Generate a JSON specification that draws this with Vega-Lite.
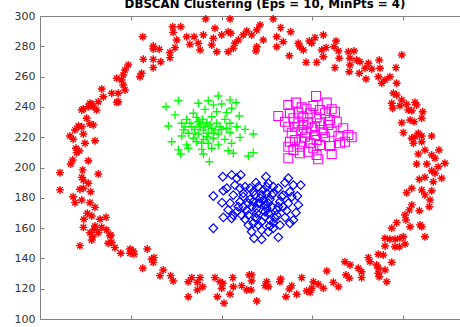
{
  "$schema": "https://vega.github.io/schema/vega-lite/v6.json",
  "autosize": {"type": "none"},
  "padding": {"left": 40, "top": 16, "right": 0, "bottom": 8},
  "width": 420,
  "height": 303,
  "background": "white",
  "config": {"view": {"stroke": null}},
  "title": {"text": "DBSCAN Clustering (Eps = 10, MinPts = 4)", "font": "DejaVu Sans", "fontSize": 11.8, "fontWeight": "bold", "color": "#000000", "anchor": "middle", "frame": "group", "dx": 15, "dy": 9.5, "offset": 0, "baseline": "alphabetic"},
  "layer": [
    {
      "data": {"values": [
        {"x":91.3,"y":298.0,"c":1},{"x":104.7,"y":298.0,"c":1},{"x":73.1,"y":292.9,"c":1},{"x":77.5,"y":292.9,"c":1},{"x":73.4,"y":289.2,"c":1},{"x":96.4,"y":291.9,"c":1},{"x":103.7,"y":289.6,"c":1},{"x":105.1,"y":288.6,"c":1},{"x":113.9,"y":290.1,"c":1},{"x":112.0,"y":287.5,"c":1},
        {"x":56.6,"y":286.3,"c":1},{"x":75.3,"y":284.2,"c":1},{"x":80.8,"y":286.3,"c":1},{"x":84.9,"y":286.3,"c":1},{"x":90.0,"y":287.5,"c":1},{"x":95.5,"y":285.3,"c":1},{"x":100.1,"y":287.5,"c":1},{"x":109.3,"y":284.2,"c":1},{"x":107.4,"y":282.0,"c":1},{"x":82.6,"y":281.3,"c":1},
        {"x":87.2,"y":282.0,"c":1},{"x":94.6,"y":280.9,"c":1},{"x":74.4,"y":279.1,"c":1},{"x":62.4,"y":280.2,"c":1},{"x":62.4,"y":278.2,"c":1},{"x":65.7,"y":278.0,"c":1},{"x":106.5,"y":278.7,"c":1},{"x":88.2,"y":277.6,"c":1},{"x":97.4,"y":276.4,"c":1},{"x":103.7,"y":276.4,"c":1},
        {"x":71.6,"y":276.0,"c":1},{"x":71.6,"y":272.5,"c":1},{"x":56.9,"y":271.4,"c":1},{"x":62.4,"y":271.4,"c":1},{"x":66.5,"y":269.8,"c":1},{"x":48.6,"y":267.7,"c":1},{"x":62.4,"y":265.9,"c":1},{"x":46.8,"y":264.4,"c":1},{"x":45.9,"y":261.1,"c":1},{"x":56.0,"y":262.2,"c":1},
        {"x":55.1,"y":259.9,"c":1},{"x":42.3,"y":258.9,"c":1},{"x":45.0,"y":257.8,"c":1},{"x":45.9,"y":254.5,"c":1},{"x":34.0,"y":251.8,"c":1},{"x":39.5,"y":249.0,"c":1},{"x":46.8,"y":251.2,"c":1},{"x":34.9,"y":246.7,"c":1},{"x":43.1,"y":249.0,"c":1},{"x":42.3,"y":243.0,"c":1},
        {"x":27.5,"y":242.4,"c":1},{"x":29.4,"y":240.1,"c":1},{"x":23.9,"y":238.6,"c":1},{"x":128.5,"y":298.0,"c":1},{"x":121.2,"y":294.1,"c":1},{"x":119.4,"y":290.8,"c":1},{"x":116.6,"y":287.5,"c":1},{"x":132.6,"y":292.3,"c":1},{"x":138.1,"y":289.6,"c":1},{"x":130.4,"y":286.3,"c":1},
        {"x":134.0,"y":283.0,"c":1},{"x":130.4,"y":279.7,"c":1},{"x":123.0,"y":284.2,"c":1},{"x":119.4,"y":279.7,"c":1},{"x":119.0,"y":276.9,"c":1},{"x":142.3,"y":282.0,"c":1},{"x":143.2,"y":279.7,"c":1},{"x":148.4,"y":283.5,"c":1},{"x":151.5,"y":285.7,"c":1},{"x":156.1,"y":287.5,"c":1},
        {"x":149.7,"y":282.0,"c":1},{"x":145.1,"y":277.6,"c":1},{"x":137.4,"y":273.8,"c":1},{"x":146.6,"y":269.4,"c":1},{"x":152.4,"y":269.4,"c":1},{"x":155.2,"y":277.6,"c":1},{"x":157.6,"y":279.1,"c":1},{"x":156.1,"y":273.1,"c":1},{"x":163.1,"y":283.5,"c":1},{"x":162.0,"y":279.7,"c":1},
        {"x":164.4,"y":276.9,"c":1},{"x":164.9,"y":272.1,"c":1},{"x":162.5,"y":265.9,"c":1},{"x":169.9,"y":276.4,"c":1},{"x":173.0,"y":276.9,"c":1},{"x":170.8,"y":272.1,"c":1},{"x":174.5,"y":271.0,"c":1},{"x":170.8,"y":267.7,"c":1},{"x":170.4,"y":263.2,"c":1},{"x":176.3,"y":269.8,"c":1},
        {"x":179.1,"y":265.5,"c":1},{"x":175.9,"y":262.2,"c":1},{"x":180.9,"y":268.8,"c":1},{"x":182.8,"y":265.0,"c":1},{"x":179.6,"y":258.4,"c":1},{"x":186.9,"y":271.0,"c":1},{"x":187.3,"y":265.5,"c":1},{"x":186.4,"y":259.9,"c":1},{"x":188.3,"y":255.6,"c":1},{"x":192.8,"y":259.9,"c":1},
        {"x":190.1,"y":257.8,"c":1},{"x":199.3,"y":274.3,"c":1},{"x":196.1,"y":265.9,"c":1},{"x":196.5,"y":255.6,"c":1},{"x":194.7,"y":249.0,"c":1},{"x":196.5,"y":247.9,"c":1},{"x":199.3,"y":244.6,"c":1},{"x":202.0,"y":241.7,"c":1},{"x":193.8,"y":242.4,"c":1},{"x":198.3,"y":240.8,"c":1},
        {"x":206.6,"y":243.0,"c":1},{"x":207.5,"y":241.3,"c":1},{"x":194.3,"y":239.1,"c":1},{"x":202.9,"y":238.0,"c":1},{"x":204.8,"y":237.5,"c":1},{"x":210.8,"y":236.8,"c":1},{"x":210.3,"y":232.5,"c":1},{"x":203.9,"y":231.4,"c":1},{"x":206.1,"y":230.2,"c":1},{"x":199.3,"y":229.6,"c":1},
        {"x":200.2,"y":223.0,"c":1},{"x":208.4,"y":222.6,"c":1},{"x":206.6,"y":220.3,"c":1},{"x":210.3,"y":220.8,"c":1},{"x":204.8,"y":219.3,"c":1},{"x":215.8,"y":220.8,"c":1},{"x":210.3,"y":217.0,"c":1},{"x":205.7,"y":216.0,"c":1},{"x":212.1,"y":211.6,"c":1},{"x":208.4,"y":208.9,"c":1},
        {"x":215.8,"y":208.3,"c":1},{"x":219.8,"y":211.6,"c":1},{"x":217.6,"y":206.1,"c":1},{"x":213.1,"y":202.3,"c":1},{"x":207.5,"y":202.3,"c":1},{"x":223.1,"y":202.8,"c":1},{"x":219.4,"y":200.5,"c":1},{"x":215.8,"y":197.9,"c":1},{"x":217.6,"y":196.2,"c":1},{"x":221.3,"y":192.9,"c":1},
        {"x":212.1,"y":193.5,"c":1},{"x":209.0,"y":192.2,"c":1},{"x":216.7,"y":190.6,"c":1},{"x":204.8,"y":186.3,"c":1},{"x":202.0,"y":183.4,"c":1},{"x":210.3,"y":185.2,"c":1},{"x":212.1,"y":181.9,"c":1},{"x":215.8,"y":184.7,"c":1},{"x":214.9,"y":178.5,"c":1},{"x":214.5,"y":174.1,"c":1},
        {"x":204.8,"y":175.3,"c":1},{"x":203.5,"y":172.0,"c":1},{"x":209.0,"y":171.5,"c":1},{"x":201.1,"y":168.6,"c":1},{"x":201.6,"y":165.3,"c":1},{"x":196.5,"y":163.6,"c":1},{"x":203.9,"y":160.9,"c":1},{"x":209.4,"y":162.0,"c":1},{"x":210.3,"y":160.9,"c":1},{"x":193.8,"y":159.9,"c":1},
        {"x":212.1,"y":154.3,"c":1},{"x":200.2,"y":154.3,"c":1},{"x":190.1,"y":153.3,"c":1},{"x":192.8,"y":152.6,"c":1},{"x":195.6,"y":152.6,"c":1},{"x":198.3,"y":153.3,"c":1},{"x":190.1,"y":148.2,"c":1},{"x":195.6,"y":147.7,"c":1},{"x":198.0,"y":147.7,"c":1},{"x":201.1,"y":149.5,"c":1},
        {"x":186.4,"y":142.7,"c":1},{"x":189.1,"y":142.2,"c":1},{"x":180.9,"y":140.5,"c":1},{"x":181.8,"y":137.8,"c":1},{"x":193.8,"y":137.4,"c":1},{"x":185.5,"y":135.6,"c":1},{"x":186.4,"y":133.5,"c":1},{"x":190.1,"y":132.3,"c":1},{"x":186.4,"y":130.2,"c":1},{"x":186.9,"y":127.9,"c":1},
        {"x":191.0,"y":124.6,"c":1},{"x":168.0,"y":137.8,"c":1},{"x":170.8,"y":135.6,"c":1},{"x":175.4,"y":133.5,"c":1},{"x":177.2,"y":131.2,"c":1},{"x":177.2,"y":127.3,"c":1},{"x":168.6,"y":129.0,"c":1},{"x":170.4,"y":126.9,"c":1},{"x":158.0,"y":131.7,"c":1},{"x":161.6,"y":124.2,"c":1},
        {"x":164.4,"y":121.3,"c":1},{"x":153.3,"y":122.9,"c":1},{"x":156.1,"y":120.3,"c":1},{"x":150.6,"y":124.6,"c":1},{"x":149.7,"y":120.3,"c":1},{"x":146.9,"y":118.5,"c":1},{"x":148.8,"y":117.6,"c":1},{"x":144.2,"y":127.3,"c":1},{"x":138.7,"y":122.0,"c":1},{"x":137.4,"y":119.8,"c":1},
        {"x":141.4,"y":116.3,"c":1},{"x":135.5,"y":114.7,"c":1},{"x":132.6,"y":126.4,"c":1},{"x":132.2,"y":124.6,"c":1},{"x":124.9,"y":124.6,"c":1},{"x":125.8,"y":121.3,"c":1},{"x":124.0,"y":122.0,"c":1},{"x":116.6,"y":129.0,"c":1},{"x":116.6,"y":125.1,"c":1},{"x":116.3,"y":119.1,"c":1},
        {"x":119.4,"y":111.9,"c":1},{"x":22.0,"y":148.4,"c":1},{"x":28.5,"y":152.1,"c":1},{"x":29.0,"y":154.3,"c":1},{"x":37.6,"y":150.0,"c":1},{"x":39.5,"y":150.6,"c":1},{"x":41.3,"y":147.1,"c":1},{"x":38.6,"y":155.0,"c":1},{"x":44.5,"y":143.4,"c":1},{"x":49.6,"y":146.2,"c":1},
        {"x":51.4,"y":144.9,"c":1},{"x":49.6,"y":143.4,"c":1},{"x":51.8,"y":142.7,"c":1},{"x":59.1,"y":146.2,"c":1},{"x":61.5,"y":139.6,"c":1},{"x":62.8,"y":140.5,"c":1},{"x":62.4,"y":137.4,"c":1},{"x":56.6,"y":133.5,"c":1},{"x":67.9,"y":132.3,"c":1},{"x":66.1,"y":128.6,"c":1},
        {"x":72.0,"y":128.6,"c":1},{"x":73.4,"y":125.1,"c":1},{"x":81.7,"y":124.6,"c":1},{"x":83.6,"y":127.3,"c":1},{"x":88.2,"y":127.3,"c":1},{"x":86.7,"y":124.2,"c":1},{"x":89.6,"y":121.3,"c":1},{"x":86.7,"y":119.1,"c":1},{"x":81.7,"y":114.7,"c":1},{"x":96.4,"y":127.3,"c":1},
        {"x":99.2,"y":124.6,"c":1},{"x":100.7,"y":123.6,"c":1},{"x":100.1,"y":120.3,"c":1},{"x":106.2,"y":127.3,"c":1},{"x":106.5,"y":121.3,"c":1},{"x":104.7,"y":116.3,"c":1},{"x":97.7,"y":114.7,"c":1},{"x":101.4,"y":110.4,"c":1},{"x":111.1,"y":122.0,"c":1},{"x":113.9,"y":119.1,"c":1},
        {"x":115.3,"y":129.0,"c":1},{"x":23.0,"y":238.0,"c":1},{"x":26.6,"y":240.1,"c":1},{"x":28.5,"y":241.9,"c":1},{"x":31.2,"y":238.0,"c":1},{"x":32.1,"y":243.4,"c":1},{"x":43.1,"y":243.4,"c":1},{"x":25.7,"y":232.5,"c":1},{"x":27.5,"y":228.7,"c":1},{"x":29.4,"y":228.1,"c":1},
        {"x":21.1,"y":227.4,"c":1},{"x":23.0,"y":226.9,"c":1},{"x":19.3,"y":224.8,"c":1},{"x":16.5,"y":220.8,"c":1},{"x":18.3,"y":218.6,"c":1},{"x":23.9,"y":222.1,"c":1},{"x":24.8,"y":216.0,"c":1},{"x":30.3,"y":217.7,"c":1},{"x":19.8,"y":212.7,"c":1},{"x":21.7,"y":211.1,"c":1},
        {"x":20.2,"y":209.8,"c":1},{"x":26.6,"y":204.5,"c":1},{"x":18.0,"y":205.0,"c":1},{"x":16.9,"y":202.3,"c":1},{"x":11.0,"y":196.6,"c":1},{"x":23.5,"y":198.4,"c":1},{"x":23.0,"y":193.5,"c":1},{"x":32.1,"y":195.7,"c":1},{"x":23.9,"y":191.8,"c":1},{"x":26.6,"y":189.6,"c":1},
        {"x":11.0,"y":185.2,"c":1},{"x":22.0,"y":185.6,"c":1},{"x":23.9,"y":186.3,"c":1},{"x":27.9,"y":184.0,"c":1},{"x":18.3,"y":180.7,"c":1},{"x":19.3,"y":176.8,"c":1},{"x":23.0,"y":178.5,"c":1},{"x":27.5,"y":176.8,"c":1},{"x":30.3,"y":173.7,"c":1},{"x":26.1,"y":169.8,"c":1},
        {"x":28.5,"y":168.0,"c":1},{"x":33.1,"y":165.8,"c":1},{"x":36.4,"y":167.1,"c":1},{"x":24.2,"y":165.8,"c":1},{"x":23.9,"y":160.5,"c":1},{"x":30.3,"y":161.4,"c":1},{"x":29.8,"y":159.2,"c":1},{"x":34.0,"y":160.5,"c":1},{"x":36.7,"y":158.7,"c":1},{"x":39.0,"y":155.4,"c":1},
        {"x":27.5,"y":157.0,"c":1},{"x":32.1,"y":157.0,"c":1},

        {"x":98.2,"y":247.2,"c":2},{"x":104.7,"y":244.6,"c":2},{"x":108.0,"y":242.8,"c":2},{"x":76.2,"y":244.1,"c":2},{"x":69.4,"y":240.1,"c":2},{"x":87.2,"y":242.4,"c":2},{"x":92.7,"y":244.1,"c":2},{"x":95.5,"y":241.3,"c":2},{"x":100.1,"y":241.9,"c":2},{"x":74.4,"y":234.7,"c":2},
        {"x":84.5,"y":235.8,"c":2},{"x":90.9,"y":238.4,"c":2},{"x":97.4,"y":236.8,"c":2},{"x":102.9,"y":236.2,"c":2},{"x":105.6,"y":239.1,"c":2},{"x":109.8,"y":234.0,"c":2},{"x":80.8,"y":231.8,"c":2},{"x":86.3,"y":233.1,"c":2},{"x":89.6,"y":231.8,"c":2},{"x":94.6,"y":233.5,"c":2},
        {"x":101.9,"y":231.8,"c":2},{"x":70.7,"y":227.4,"c":2},{"x":78.1,"y":229.2,"c":2},{"x":82.6,"y":229.2,"c":2},{"x":88.2,"y":228.7,"c":2},{"x":91.8,"y":229.6,"c":2},{"x":97.4,"y":229.2,"c":2},{"x":104.7,"y":229.2,"c":2},{"x":108.4,"y":226.9,"c":2},{"x":79.0,"y":224.8,"c":2},
        {"x":85.4,"y":225.2,"c":2},{"x":90.0,"y":224.8,"c":2},{"x":94.6,"y":225.9,"c":2},{"x":100.1,"y":225.2,"c":2},{"x":113.0,"y":225.2,"c":2},{"x":81.7,"y":222.6,"c":2},{"x":87.2,"y":222.1,"c":2},{"x":92.7,"y":222.6,"c":2},{"x":98.2,"y":222.1,"c":2},{"x":104.7,"y":223.0,"c":2},
        {"x":117.5,"y":222.1,"c":2},{"x":78.1,"y":220.8,"c":2},{"x":84.5,"y":219.3,"c":2},{"x":90.0,"y":218.6,"c":2},{"x":95.5,"y":219.3,"c":2},{"x":101.9,"y":218.6,"c":2},{"x":110.2,"y":219.9,"c":2},{"x":72.6,"y":217.0,"c":2},{"x":80.8,"y":214.9,"c":2},{"x":86.3,"y":217.0,"c":2},
        {"x":92.7,"y":216.0,"c":2},{"x":98.2,"y":214.9,"c":2},{"x":105.6,"y":216.0,"c":2},{"x":76.2,"y":211.6,"c":2},{"x":81.7,"y":212.7,"c":2},{"x":89.1,"y":212.0,"c":2},{"x":94.6,"y":212.7,"c":2},{"x":103.7,"y":211.1,"c":2},{"x":106.5,"y":209.4,"c":2},{"x":77.5,"y":208.9,"c":2},
        {"x":90.0,"y":208.9,"c":2},{"x":114.8,"y":207.6,"c":2},{"x":117.5,"y":209.8,"c":2},{"x":93.3,"y":203.8,"c":2},{"x":90.9,"y":226.9,"c":2},{"x":93.7,"y":228.1,"c":2},{"x":88.2,"y":226.9,"c":2},{"x":96.4,"y":224.8,"c":2},{"x":91.8,"y":220.3,"c":2},{"x":83.6,"y":226.9,"c":2},
        {"x":87.2,"y":230.2,"c":2},{"x":99.2,"y":226.9,"c":2},{"x":85.4,"y":222.6,"c":2},{"x":95.5,"y":222.6,"c":2},{"x":89.1,"y":216.0,"c":2},{"x":102.9,"y":225.9,"c":2},{"x":79.9,"y":226.9,"c":2},

        {"x":100.7,"y":193.9,"c":3},{"x":105.6,"y":195.1,"c":3},{"x":110.6,"y":195.1,"c":3},{"x":108.4,"y":192.9,"c":3},{"x":124.5,"y":193.9,"c":3},{"x":136.8,"y":192.9,"c":3},{"x":139.6,"y":188.4,"c":3},{"x":143.6,"y":188.4,"c":3},{"x":135.0,"y":190.0,"c":3},{"x":95.5,"y":181.2,"c":3},
        {"x":101.0,"y":184.7,"c":3},{"x":107.4,"y":188.4,"c":3},{"x":113.0,"y":187.3,"c":3},{"x":119.0,"y":190.0,"c":3},{"x":125.8,"y":189.6,"c":3},{"x":131.3,"y":186.3,"c":3},{"x":137.7,"y":184.0,"c":3},{"x":141.8,"y":181.2,"c":3},{"x":100.3,"y":176.8,"c":3},{"x":106.5,"y":181.8,"c":3},
        {"x":112.0,"y":183.0,"c":3},{"x":117.5,"y":184.0,"c":3},{"x":123.0,"y":185.2,"c":3},{"x":128.5,"y":183.0,"c":3},{"x":134.0,"y":181.8,"c":3},{"x":104.7,"y":176.4,"c":3},{"x":110.2,"y":177.4,"c":3},{"x":115.7,"y":179.0,"c":3},{"x":121.2,"y":179.7,"c":3},{"x":126.7,"y":179.0,"c":3},
        {"x":132.2,"y":177.4,"c":3},{"x":136.8,"y":176.4,"c":3},{"x":142.3,"y":175.3,"c":3},{"x":108.4,"y":170.8,"c":3},{"x":113.9,"y":171.9,"c":3},{"x":119.4,"y":173.1,"c":3},{"x":124.9,"y":173.1,"c":3},{"x":130.4,"y":172.0,"c":3},{"x":135.9,"y":171.5,"c":3},{"x":141.0,"y":170.2,"c":3},
        {"x":101.0,"y":167.1,"c":3},{"x":105.6,"y":166.5,"c":3},{"x":113.0,"y":165.8,"c":3},{"x":118.5,"y":167.1,"c":3},{"x":124.0,"y":167.5,"c":3},{"x":129.5,"y":166.5,"c":3},{"x":135.0,"y":167.1,"c":3},{"x":139.6,"y":165.3,"c":3},{"x":95.5,"y":159.9,"c":3},{"x":114.8,"y":162.0,"c":3},
        {"x":120.3,"y":162.0,"c":3},{"x":126.7,"y":161.4,"c":3},{"x":132.2,"y":162.0,"c":3},{"x":137.7,"y":163.2,"c":3},{"x":116.6,"y":157.6,"c":3},{"x":122.1,"y":158.7,"c":3},{"x":128.5,"y":159.9,"c":3},{"x":117.9,"y":153.3,"c":3},{"x":122.1,"y":152.6,"c":3},{"x":131.3,"y":153.9,"c":3},
        {"x":125.8,"y":157.6,"c":3},{"x":121.2,"y":176.4,"c":3},{"x":124.0,"y":175.3,"c":3},{"x":119.4,"y":169.8,"c":3},{"x":125.8,"y":169.8,"c":3},{"x":116.6,"y":174.1,"c":3},{"x":123.0,"y":178.5,"c":3},{"x":127.7,"y":174.1,"c":3},{"x":114.8,"y":168.6,"c":3},{"x":122.1,"y":164.2,"c":3},
        {"x":128.5,"y":163.6,"c":3},{"x":112.0,"y":174.1,"c":3},{"x":118.5,"y":181.9,"c":3},{"x":124.9,"y":183.0,"c":3},{"x":124.9,"y":187.3,"c":3},{"x":120.3,"y":187.3,"c":3},{"x":109.3,"y":174.1,"c":3},{"x":130.4,"y":168.6,"c":3},{"x":134.0,"y":174.1,"c":3},{"x":117.5,"y":163.2,"c":3},
        {"x":102.9,"y":186.3,"c":3},{"x":110.2,"y":186.3,"c":3},{"x":115.7,"y":186.3,"c":3},{"x":128.5,"y":187.3,"c":3},{"x":133.2,"y":180.7,"c":3},{"x":138.7,"y":180.7,"c":3},{"x":103.7,"y":172.0,"c":3},{"x":106.5,"y":168.6,"c":3},{"x":111.1,"y":168.6,"c":3},{"x":120.3,"y":176.4,"c":3},
        {"x":125.8,"y":176.4,"c":3},{"x":117.5,"y":177.4,"c":3},{"x":124.0,"y":170.8,"c":3},{"x":119.4,"y":166.5,"c":3},{"x":126.7,"y":165.3,"c":3},{"x":131.3,"y":174.1,"c":3},{"x":112.0,"y":180.7,"c":3},{"x":114.8,"y":176.4,"c":3},{"x":122.1,"y":181.9,"c":3},{"x":127.7,"y":181.9,"c":3},

        {"x":152.1,"y":247.2,"c":4},{"x":141.0,"y":242.8,"c":4},{"x":158.0,"y":242.8,"c":4},{"x":136.8,"y":241.3,"c":4},{"x":131.3,"y":234.0,"c":4},{"x":144.2,"y":239.7,"c":4},{"x":150.6,"y":240.6,"c":4},{"x":146.9,"y":238.4,"c":4},{"x":154.3,"y":238.0,"c":4},{"x":160.7,"y":238.4,"c":4},
        {"x":137.7,"y":235.8,"c":4},{"x":142.3,"y":236.2,"c":4},{"x":148.8,"y":235.8,"c":4},{"x":157.0,"y":235.8,"c":4},{"x":162.5,"y":236.8,"c":4},{"x":135.0,"y":230.2,"c":4},{"x":139.6,"y":232.5,"c":4},{"x":145.1,"y":233.1,"c":4},{"x":152.4,"y":233.1,"c":4},{"x":159.8,"y":231.4,"c":4},
        {"x":163.5,"y":230.2,"c":4},{"x":136.8,"y":226.9,"c":4},{"x":142.3,"y":229.2,"c":4},{"x":147.8,"y":229.6,"c":4},{"x":154.3,"y":229.2,"c":4},{"x":158.8,"y":228.1,"c":4},{"x":138.7,"y":222.6,"c":4},{"x":144.2,"y":224.8,"c":4},{"x":149.7,"y":225.9,"c":4},{"x":155.2,"y":224.8,"c":4},
        {"x":160.7,"y":223.6,"c":4},{"x":167.1,"y":225.9,"c":4},{"x":140.5,"y":218.2,"c":4},{"x":146.0,"y":220.3,"c":4},{"x":151.5,"y":221.5,"c":4},{"x":157.0,"y":220.0,"c":4},{"x":164.4,"y":220.8,"c":4},{"x":169.9,"y":221.5,"c":4},{"x":168.0,"y":217.0,"c":4},{"x":171.7,"y":220.0,"c":4},
        {"x":165.3,"y":216.0,"c":4},{"x":136.8,"y":213.7,"c":4},{"x":143.2,"y":213.7,"c":4},{"x":148.8,"y":216.0,"c":4},{"x":154.3,"y":214.9,"c":4},{"x":159.8,"y":214.2,"c":4},{"x":139.6,"y":211.6,"c":4},{"x":147.8,"y":210.4,"c":4},{"x":152.4,"y":208.3,"c":4},{"x":160.7,"y":208.9,"c":4},
        {"x":136.8,"y":206.1,"c":4},{"x":143.2,"y":209.4,"c":4},{"x":153.3,"y":205.4,"c":4},{"x":145.1,"y":228.1,"c":4},{"x":151.5,"y":226.9,"c":4},{"x":146.9,"y":223.0,"c":4},{"x":152.4,"y":218.2,"c":4},{"x":144.2,"y":217.0,"c":4},{"x":156.1,"y":222.6,"c":4},{"x":150.6,"y":212.7,"c":4},
        {"x":140.5,"y":226.9,"c":4},{"x":137.7,"y":217.0,"c":4}
      ]},
      "mark": {"type": "point", "filled": false, "opacity": 1},
      "encoding": {
        "x": {"field": "x", "type": "quantitative", "scale": {"domain": [0, 231.4], "nice": false, "zero": false},
              "axis": {"orient": "bottom", "values": [0, 50, 100, 150, 200], "labels": false, "grid": false, "title": null, "tickSize": -4, "domainColor": "#808080", "tickColor": "#808080", "domainWidth": 1, "tickWidth": 1}},
        "y": {"field": "y", "type": "quantitative", "scale": {"domain": [100, 300], "nice": false, "zero": false},
              "axis": {"orient": "left", "values": [100, 120, 140, 160, 180, 200, 220, 240, 260, 280, 300], "grid": false, "title": null, "tickSize": -4, "labelPadding": 9, "labelFont": "DejaVu Sans", "labelFontSize": 11, "labelColor": "#333333", "domainColor": "#808080", "tickColor": "#808080", "domainWidth": 1, "tickWidth": 1}},
        "color": {"field": "c", "type": "nominal", "scale": {"domain": [1, 2, 3, 4], "range": ["#ff0000", "#00ff00", "#0000ff", "#ff00ff"]}, "legend": null},
        "shape": {"field": "c", "type": "nominal", "scale": {"domain": [1, 2, 3, 4], "range": ["M-1,0L1,0M0,-1L0,1M-0.7,-0.7L0.7,0.7M-0.7,0.7L0.7,-0.7", "M-1,0L1,0M0,-1L0,1", "diamond", "square"]}, "legend": null},
        "size": {"field": "c", "type": "ordinal", "scale": {"domain": [1, 2, 3, 4], "range": [64, 81, 40, 26]}, "legend": null},
        "strokeWidth": {"field": "c", "type": "ordinal", "scale": {"domain": [1, 2, 3, 4], "range": [1.4, 1.1, 1, 1]}, "legend": null}
      }
    },
    {
      "data": {"values": [{"x": 0}]},
      "mark": {"type": "point", "opacity": 0},
      "encoding": {
        "x": {"field": "x", "type": "quantitative", "scale": {"domain": [0, 231.4], "nice": false, "zero": false},
              "axis": {"orient": "top", "values": [0, 50, 100, 150, 200], "labels": false, "grid": false, "title": null, "tickSize": -4, "domainColor": "#808080", "tickColor": "#808080", "domainWidth": 1, "tickWidth": 1}}
      }
    }
  ],
  "resolve": {"axis": {"x": "independent"}}
}
